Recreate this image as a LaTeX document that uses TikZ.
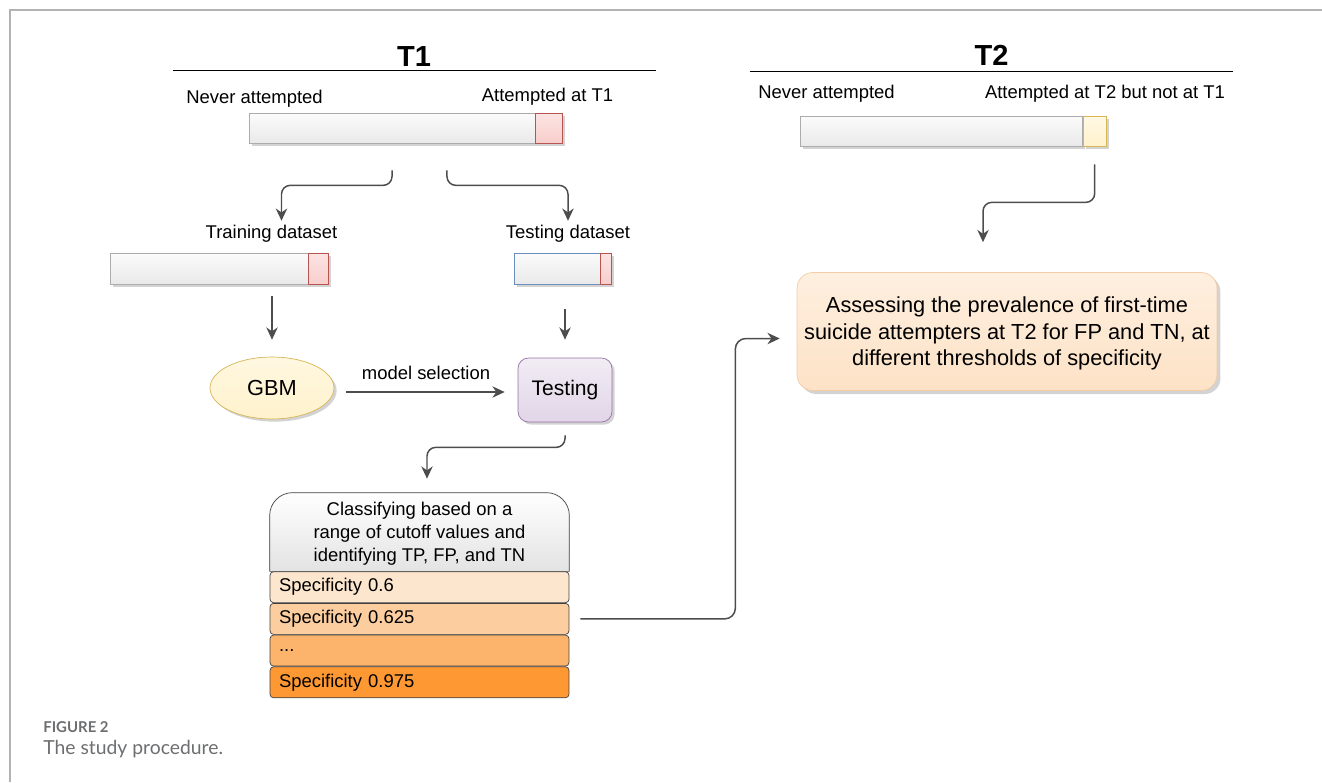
\documentclass[tikz,border=0pt]{standalone}
\usepackage{fontspec}
\setmainfont{Liberation Sans}
\newfontfamily\capfont{Lato}
\usepackage{tikz}
\usetikzlibrary{shapes, arrows.meta, positioning, calc, shadows, backgrounds}
\definecolor{arrowgray}{HTML}{4D4D4D}
\definecolor{framegray}{HTML}{B3B3B3}
\definecolor{redfill}{HTML}{F8CECC}
\definecolor{redline}{HTML}{B85450}
\definecolor{yellowfill}{HTML}{FFF2CC}
\definecolor{yellowline}{HTML}{D6B656}
\definecolor{purplefill}{HTML}{E1D5E7}
\definecolor{purpleline}{HTML}{9673A6}
\definecolor{blueline}{HTML}{6C8EBF}
\definecolor{peachfill}{HTML}{FDE2C6}
\definecolor{peachline}{HTML}{F3CCA4}
\definecolor{rowone}{HTML}{FDE6CE}
\definecolor{rowtwo}{HTML}{FCCE9F}
\definecolor{rowthree}{HTML}{FCB46C}
\definecolor{rowfour}{HTML}{FE9833}
\definecolor{captiongray}{HTML}{6D6E70}
\tikzset{bar/.style={draw=gray!65, rectangle, inner sep=0pt, minimum height=0.6cm,
             top color=gray!3, bottom color=gray!17,
             drop shadow={shadow xshift=1.5pt, shadow yshift=-1.5pt, opacity=0.35, fill=black!50}},
         redpart/.style={draw=redline, top color=redfill!55, bottom color=redfill},
         yellowpart/.style={draw=yellowline, top color=yellowfill!55, bottom color=yellowfill},
         lbl/.style={anchor=base, inner sep=0pt, font=\fontsize{10.5}{12.6}\selectfont},
         title/.style={anchor=base, inner sep=0pt, font=\fontsize{16.5}{20}\selectfont\bfseries},
         rule/.style={draw=black, line width=0.85pt},
         conn/.style={->, draw=arrowgray, line width=0.85pt, rounded corners=5pt}, % all connectors
         rowbox/.style={draw=black!75, rectangle, rounded corners=2pt, minimum height=0.62cm,
             inner xsep=0.18cm, inner ysep=0pt, text width=5.62cm, align=left,
             font=\fontsize{10.5}{12.6}\selectfont}}

\begin{document}
\begin{tikzpicture}[x=0.02cm, y=-0.02cm, >={Stealth[length=7pt, width=6.5pt]}]
        \useasboundingbox (0,0) rectangle (1322,782);
        \draw[framegray, line width=1.1pt] (10,782) -- (10,10) -- (1322,10);

        % T1 side
        \node[title] (t1) at (414,66) {T1};
        \draw[rule] (173,70.5) -- (656,70.5);
        \node[lbl] (t1neverlbl) at (254.5,103) {Never attempted};
        \node[lbl] (t1attlbl) at (547.5,101) {Attempted at T1};
        \node[bar, minimum width=5.72cm] (t1never) at (392,128) {};
        \node[bar, redpart, minimum width=0.54cm, right=0pt of t1never] (t1att) {};
        \coordinate[below=0.54cm of t1never] (t1left);
        \coordinate[below=0.54cm of t1never, xshift=1.1cm] (t1right);

        \node[lbl] (trainlbl) at (271.5,238) {Training dataset};
        \node[lbl] (testlbl) at (568,238) {Testing dataset};
        \draw[conn, shorten >=2pt] (t1left) -- ++(0,15) -| ([xshift=0.2cm]trainlbl.north);
        \draw[conn, shorten >=2pt] (t1right) -- ++(0,15) -| (testlbl.north);

        \node[bar, minimum width=3.96cm, minimum height=0.62cm] (trainnever) at (209,268.5) {};
        \node[bar, redpart, minimum width=0.4cm, minimum height=0.62cm, right=0pt of trainnever] (trainatt) {};
        \node[bar, draw=blueline, minimum width=1.72cm, minimum height=0.62cm] (testnever) at (557,268.5) {};
        \node[bar, redpart, minimum width=0.22cm, minimum height=0.62cm, right=0pt of testnever] (testatt) {};

        \node[ellipse, draw=yellowline, top color=yellowfill!60, bottom color=yellowfill, minimum width=2.48cm,
              minimum height=1.24cm, inner sep=0pt, font=\fontsize{12.4}{14}\selectfont,
              drop shadow={shadow xshift=1.5pt, shadow yshift=-1.5pt, opacity=0.35, fill=black!50}] (gbm) at (272,388) {GBM};
        \node[rectangle, rounded corners=6pt, draw=purpleline, top color=purplefill!45, bottom color=purplefill,
              minimum width=1.88cm, minimum height=1.28cm, inner sep=0pt, font=\fontsize{12}{14}\selectfont,
              drop shadow={shadow xshift=1.5pt, shadow yshift=-1.5pt, opacity=0.35, fill=black!50}] (testing) at (565,390) {Testing};

        \draw[conn, shorten <=0.24cm, shorten >=0.34cm] (trainnever.south -| gbm) -- (gbm);
        \draw[conn, shorten <=0.5cm, shorten >=0.36cm] (testnever.south -| testing) -- (testing);
        \draw[conn, shorten <=0.24cm, shorten >=0.26cm] (gbm.east |- 0,392) -- node[above=3pt, font=\fontsize{10.5}{12.6}\selectfont] {model selection} (testing.west |- 0,392);

        % classification table
        \node[align=center, minimum width=5.98cm, minimum height=1.56cm, inner sep=0pt, text depth=0pt,
              font=\fontsize{10.5}{13}\selectfont] (classhead) at (419.5,532)
              {Classifying based on a\\range of cutoff values and\\identifying TP, FP, and TN};
        \begin{scope}[on background layer]
            \draw[draw=black!75, top color=white, bottom color=gray!22] (classhead.south west) [rounded corners=13pt] -- (classhead.north west)
                -- (classhead.north east) [sharp corners] -- (classhead.south east) -- cycle;
        \end{scope}
        \node[rowbox, fill=rowone, below=0pt of classhead] (spec1) {Specificity 0.6};
        \node[rowbox, fill=rowtwo, below=0pt of spec1] (spec2) {Specificity 0.625};
        \node[rowbox, fill=rowthree, below=0pt of spec2] (spec3) {...};
        \node[rowbox, fill=rowfour, below=0pt of spec3] (spec4) {Specificity 0.975};
        \draw[conn, shorten <=0.26cm, shorten >=0.28cm] (testing.south) -- ++(0,25) -| ([xshift=0.15cm]classhead.north);

        % T2 side
        \node[title] (t2) at (991.5,65) {T2};
        \draw[rule] (750,71.5) -- (1233,71.5);
        \node[lbl] (t2neverlbl) at (826.5,98) {Never attempted};
        \node[lbl] (t2attlbl) at (1105,98) {Attempted at T2 but not at T1};
        \node[bar, minimum width=5.64cm] (t2never) at (941.5,131) {};
        \node[bar, yellowpart, minimum width=0.46cm, right=0pt of t2never] (t2att) {};

        \node[rectangle, rounded corners=9pt, draw=peachline, top color=peachfill!55, bottom color=peachfill,
              minimum width=8.4cm, minimum height=2.36cm, align=center, text depth=0pt, font=\fontsize{12.4}{15.1}\selectfont,
              drop shadow={shadow xshift=2pt, shadow yshift=-2pt, opacity=0.35, fill=black!50}] (assess) at (1007,331.5)
              {Assessing the prevalence of first-time\\suicide attempters at T2 for FP and TN, at\\different thresholds of specificity};
        \draw[conn, shorten <=0.36cm, shorten >=0.6cm] (t2att.south) -- ++(0,56) -| ([xshift=-0.48cm]assess.north);
        \draw[conn, rounded corners=6pt, shorten <=0.22cm, shorten >=0.34cm] (spec2.east) -- ++(166,0) |- ([yshift=-0.14cm]assess.west);

        % caption
        \node[anchor=base west, inner sep=0pt, text=captiongray, font=\capfont\bfseries\fontsize{8.5}{10}\selectfont] (figno) at (43,732) {FIGURE 2};
        \node[anchor=base west, inner sep=0pt, text=captiongray, font=\capfont\fontsize{11}{13}\selectfont] (figcap) at (43,754) {The study procedure.};
\end{tikzpicture}
\end{document}
